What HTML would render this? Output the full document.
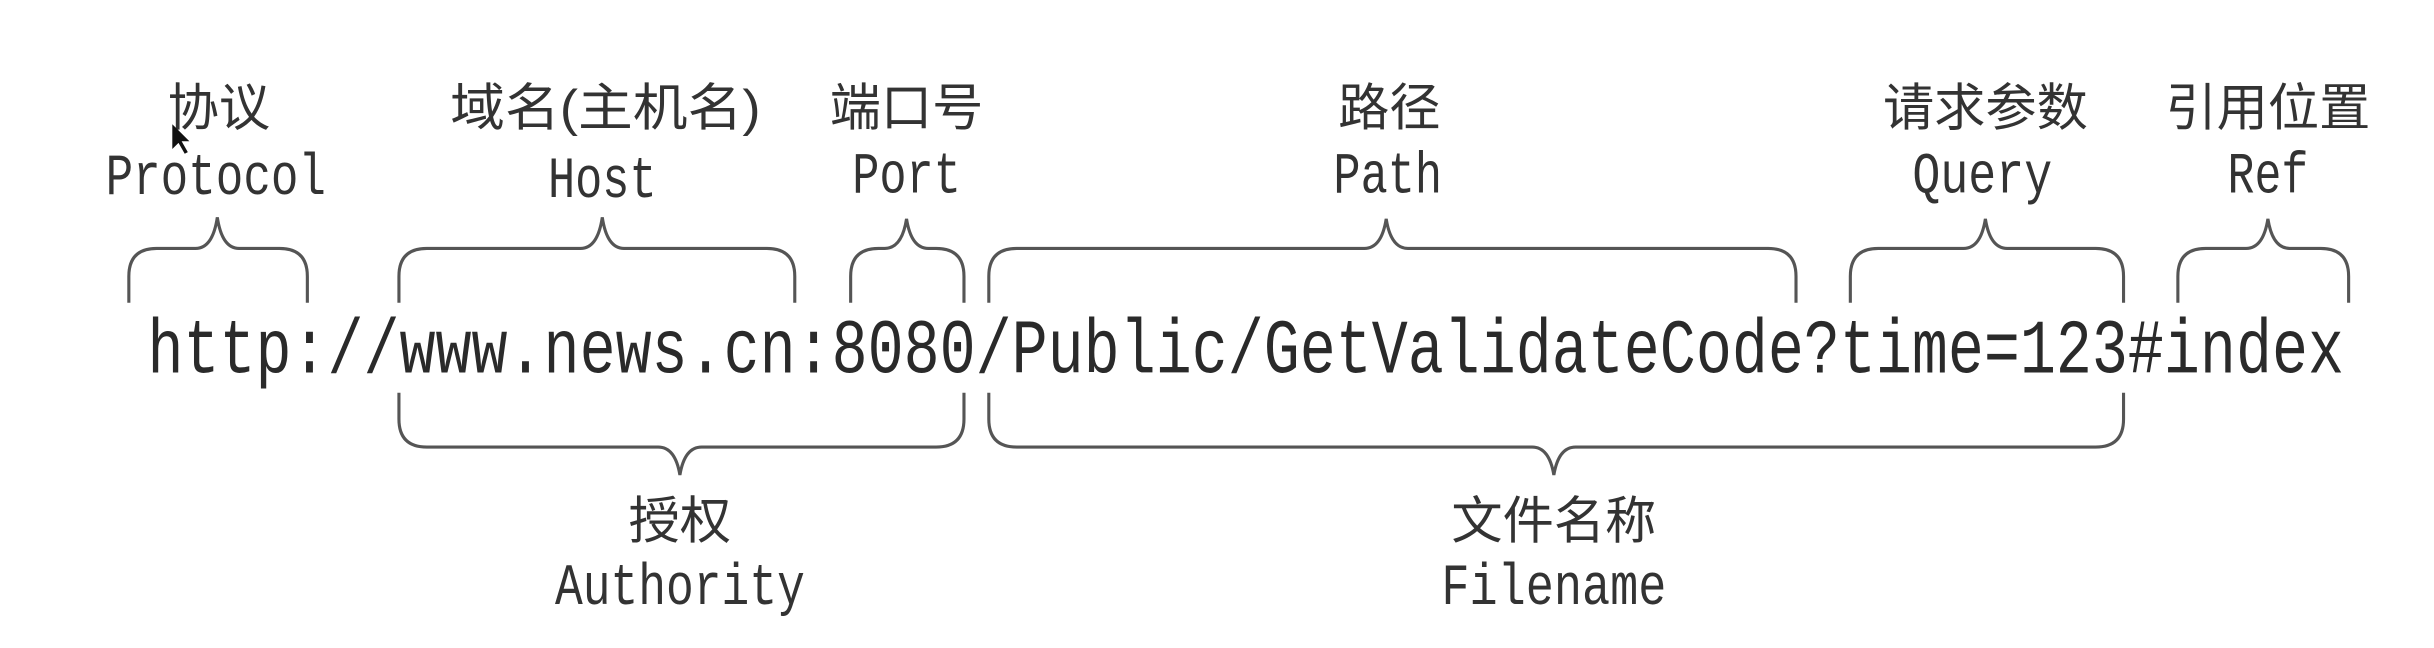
<!DOCTYPE html>
<html><head><meta charset="utf-8"><style>
html,body{margin:0;padding:0;background:#fff;}
svg{display:block}
.cn{font-family:"Liberation Sans","Noto Sans CJK SC",sans-serif;font-size:33px;fill:#333;}
.en{font-family:"Liberation Mono",monospace;font-size:29px;fill:#333;}
.url{font-family:"Liberation Mono",monospace;font-size:38px;fill:#2a2a2a;}
path.b{fill:none;stroke:#555;stroke-width:2;}
</style></head><body>
<svg width="2434" height="648" viewBox="0 0 1568 417.4" preserveAspectRatio="none" xmlns="http://www.w3.org/2000/svg">
<rect width="1568" height="418" fill="#fff"/>
<g id="braces"></g>
<!-- top labels -->
<text class="cn" x="141" y="81" text-anchor="middle">协议</text>
<text class="cn" x="390" y="81" text-anchor="middle" textLength="200" lengthAdjust="spacingAndGlyphs">域名(主机名)</text>
<text class="cn" x="584" y="81" text-anchor="middle">端口号</text>
<text class="cn" x="895" y="81" text-anchor="middle">路径</text>
<text class="cn" x="1279" y="81" text-anchor="middle">请求参数</text>
<text class="cn" x="1461" y="81" text-anchor="middle">引用位置</text>
<g transform="translate(139,125) scale(1,1.3)"><text class="en" x="0" y="0" text-anchor="middle" textLength="142" lengthAdjust="spacingAndGlyphs">Protocol</text></g>
<g transform="translate(388,127) scale(1,1.3)"><text class="en" x="0" y="0" text-anchor="middle" textLength="70" lengthAdjust="spacingAndGlyphs">Host</text></g>
<g transform="translate(584,124) scale(1,1.3)"><text class="en" x="0" y="0" text-anchor="middle" textLength="70" lengthAdjust="spacingAndGlyphs">Port</text></g>
<g transform="translate(894,124) scale(1,1.3)"><text class="en" x="0" y="0" text-anchor="middle" textLength="70" lengthAdjust="spacingAndGlyphs">Path</text></g>
<g transform="translate(1277,124) scale(1,1.3)"><text class="en" x="0" y="0" text-anchor="middle" textLength="90" lengthAdjust="spacingAndGlyphs">Query</text></g>
<g transform="translate(1461,124) scale(1,1.3)"><text class="en" x="0" y="0" text-anchor="middle" textLength="52" lengthAdjust="spacingAndGlyphs">Ref</text></g>
<!-- URL -->
<g transform="translate(95,240) scale(1,1.3)"><text class="url" x="0" y="0" textLength="1415" lengthAdjust="spacingAndGlyphs">http://www.news.cn:8080/Public/GetValidateCode?time=123#index</text></g>
<!-- bottom labels -->
<text class="cn" x="438" y="347" text-anchor="middle">授权</text>
<text class="cn" x="1001" y="347" text-anchor="middle">文件名称</text>
<g transform="translate(438,389) scale(1,1.3)"><text class="en" x="0" y="0" text-anchor="middle" textLength="161" lengthAdjust="spacingAndGlyphs">Authority</text></g>
<g transform="translate(1001,389) scale(1,1.3)"><text class="en" x="0" y="0" text-anchor="middle" textLength="145" lengthAdjust="spacingAndGlyphs">Filename</text></g>
<!-- cursor -->
<polygon points="111,80 111,96 115,92 119,99 121,98 117,91 122,91" fill="#111"/>
</svg>
<script>
var g=document.getElementById('braces');var ns="http://www.w3.org/2000/svg";
function br(x1,x2,xm,yE,yH,yT){
 var s=yE>yH?1:-1; // direction from horizontal to end
 var d="M"+x1+" "+yE+" L"+x1+" "+(yH+s*18)+" Q"+x1+" "+yH+" "+(x1+18)+" "+yH+
 " L"+(xm-14)+" "+yH+" Q"+(xm-3)+" "+yH+" "+xm+" "+yT+" Q"+(xm+3)+" "+yH+" "+(xm+14)+" "+yH+
 " L"+(x2-18)+" "+yH+" Q"+x2+" "+yH+" "+x2+" "+(yH+s*18)+" L"+x2+" "+yE;
 var p=document.createElementNS(ns,"path");p.setAttribute("d",d);p.setAttribute("class","b");g.appendChild(p);
}
br(83,198,140,195,160,140);
br(257,512,388,195,160,140);
br(548,621,584,195,160,141);
br(637,1157,893,195,160,141);
br(1192,1368,1279,195,160,141);
br(1403,1513,1461,195,160,141);
br(257,621,438,253,288,306);
br(637,1368,1001,253,288,306);
</script>
</body></html>
